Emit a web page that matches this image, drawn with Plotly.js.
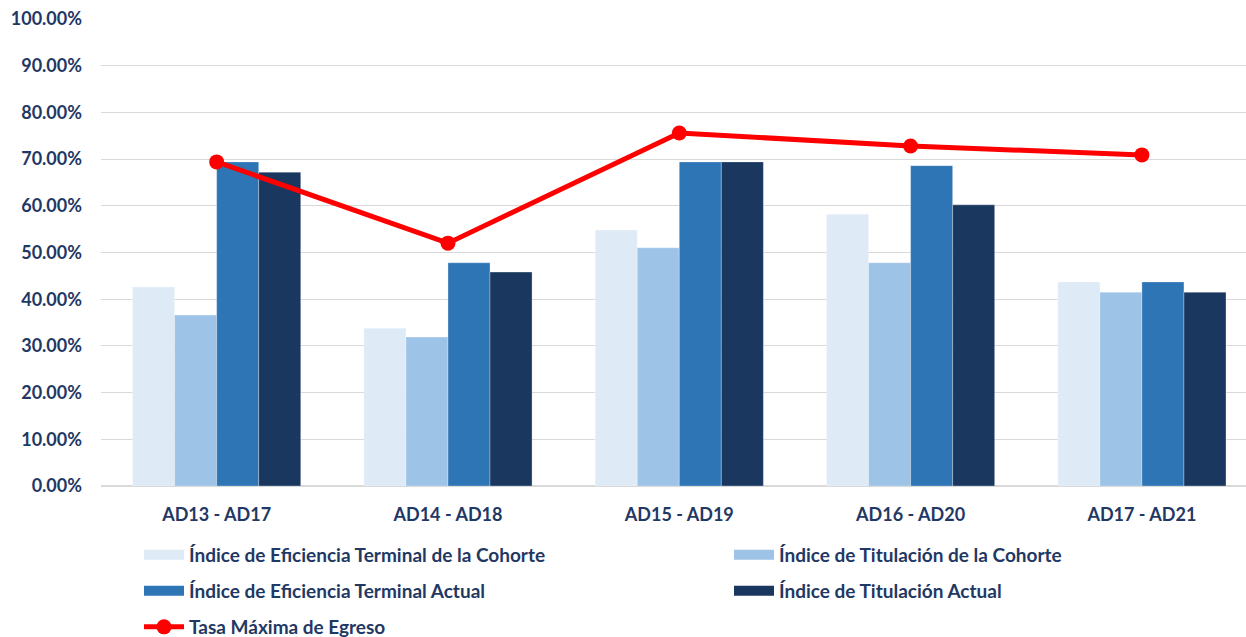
<!DOCTYPE html>
<html>
<head>
<meta charset="utf-8">
<script src="https://cdn.plot.ly/plotly-3.0.1.min.js"></script>
<style>html,body{margin:0;padding:0;background:#fff}#chart{width:1246px;height:637px}</style>
</head>
<body>
<div id="chart"></div>
<script>
const categories = ["AD13 - AD17", "AD14 - AD18", "AD15 - AD19", "AD16 - AD20", "AD17 - AD21"];
const seriesNames = [
  "Índice de Eficiencia Terminal de la Cohorte",
  "Índice de Titulación de la Cohorte",
  "Índice de Eficiencia Terminal Actual",
  "Índice de Titulación Actual"
];
const eficienciaCohorte = [0.426, 0.338, 0.548, 0.582, 0.437];
const titulacionCohorte = [0.366, 0.319, 0.510, 0.478, 0.415];
const eficienciaActual  = [0.694, 0.478, 0.694, 0.686, 0.437];
const titulacionActual  = [0.672, 0.458, 0.694, 0.602, 0.415];
const lineName = "Tasa Máxima de Egreso";
const tasaMaxima = [0.694, 0.520, 0.756, 0.728, 0.709];

const colors = ["#deeaf6", "#9dc3e6", "#2e75b6", "#1a375f"];
const textColor = "#1f3864";
const fontFam = "Lato, 'Open Sans', sans-serif";
const barSeries = [eficienciaCohorte, titulacionCohorte, eficienciaActual, titulacionActual];
const legendIds = ["legend", "legend2", "legend3", "legend4", "legend5"];

const traces = [];
barSeries.forEach((vals, i) => {
  traces.push({
    type: "bar", x: categories, y: vals, name: seriesNames[i],
    marker: {color: colors[i], line: {color: "rgba(255,255,255,0.6)", width: 0.5}},
    showlegend: false, legendgroup: "g" + i, hoverinfo: "y+name"
  });
});
// legend proxies (rectangular swatches)
barSeries.forEach((vals, i) => {
  traces.push({
    type: "scatter", mode: "lines", x: [null], y: [null], name: seriesNames[i],
    line: {color: colors[i], width: 12}, legend: legendIds[i], legendgroup: "g" + i,
    showlegend: true, hoverinfo: "skip"
  });
});
traces.push({
  type: "scatter", mode: "lines+markers", x: categories, y: tasaMaxima, name: lineName,
  line: {color: "#ff0000", width: 5}, marker: {color: "#ff0000", size: 15},
  legend: "legend5", showlegend: true
});

const legendBase = {
  orientation: "h", xref: "container", yref: "container",
  xanchor: "left", yanchor: "middle",
  font: {family: fontFam, size: 19, color: textColor, weight: "bold"},
  itemwidth: 40, bgcolor: "rgba(0,0,0,0)"
};
const col1 = 139 / 1246, col2 = 729 / 1246;
const rowY = r => 1 - r / 637;

const layout = {
  width: 1246, height: 637,
  margin: {l: 101, r: 0, t: 19, b: 151},
  paper_bgcolor: "#fff", plot_bgcolor: "#fff",
  barmode: "group", bargap: 0.273, bargroupgap: 0,
  font: {family: fontFam, color: textColor},
  xaxis: {
    type: "category", range: [-0.5, 4.45], showgrid: false, zeroline: false,
    showline: false, ticks: "", ticklabelstandoff: 16, tickangle: 0,
    tickfont: {family: fontFam, size: 18, color: textColor, weight: "bold"}
  },
  yaxis: {
    range: [0, 1.0], dtick: 0.1, tick0: 0, tickformat: ".2%",
    showgrid: true, gridcolor: "#d9d9d9", gridwidth: 1.2,
    zeroline: true, zerolinecolor: "#d9d9d9", zerolinewidth: 1.2,
    showline: false, ticks: "", ticklabelstandoff: 18,
    tickfont: {family: fontFam, size: 18, color: textColor, weight: "bold"}
  },
  legend:  Object.assign({}, legendBase, {x: col1, y: rowY(555)}),
  legend2: Object.assign({}, legendBase, {x: col2, y: rowY(555)}),
  legend3: Object.assign({}, legendBase, {x: col1, y: rowY(591)}),
  legend4: Object.assign({}, legendBase, {x: col2, y: rowY(591)}),
  legend5: Object.assign({}, legendBase, {x: col1, y: rowY(627)}),
  showlegend: true
};

Plotly.newPlot("chart", traces, layout, {displayModeBar: false, staticPlot: true});
</script>
</body>
</html>
